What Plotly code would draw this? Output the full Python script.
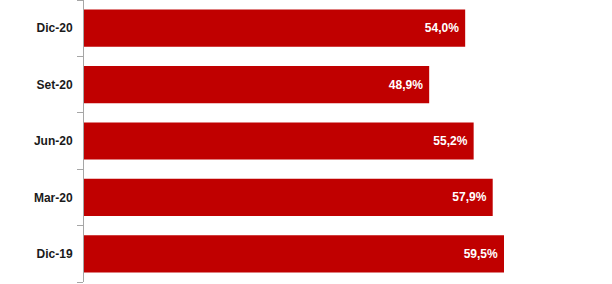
import plotly.graph_objects as go

categories = ["Dic-20", "Set-20", "Jun-20", "Mar-20", "Dic-19"]
values = [54.0, 48.9, 55.2, 57.9, 59.5]

n = len(categories)
positions = list(range(n))
boundaries = [i - 0.5 for i in range(n + 1)]

fig = go.Figure(go.Bar(
    y=positions,
    x=values,
    orientation="h",
    marker=dict(color="#C00000", line=dict(width=0)),
    width=0.66,
    texttemplate="%{x:.1f}%\u00a0",
    textposition="inside",
    insidetextanchor="end",
    textfont=dict(family="Liberation Sans", size=12, color="white", weight="bold"),
    cliponaxis=False,
))

fig.update_layout(
    width=612, height=284,
    margin=dict(l=84, r=0, t=0, b=2),
    paper_bgcolor="white", plot_bgcolor="white",
    separators=",.",
    showlegend=False,
)
fig.update_xaxes(range=[0, 74.8], visible=False, showgrid=False, zeroline=False)
fig.update_yaxes(
    range=[n - 0.5, -0.5],
    tickmode="array", tickvals=positions, ticktext=categories,
    showline=True, linecolor="#A6A6A6", linewidth=1,
    ticks="outside", ticklen=0, tickcolor="rgba(0,0,0,0)",
    minor=dict(tickmode="array", tickvals=boundaries, ticks="outside",
               ticklen=6, tickwidth=1, tickcolor="#A6A6A6", showgrid=False),
    tickfont=dict(family="Liberation Sans", size=12, color="#1a1a1a", weight="bold"),
    ticklabelstandoff=8,
    showgrid=False, zeroline=False,
)

fig.write_html("out.html")
